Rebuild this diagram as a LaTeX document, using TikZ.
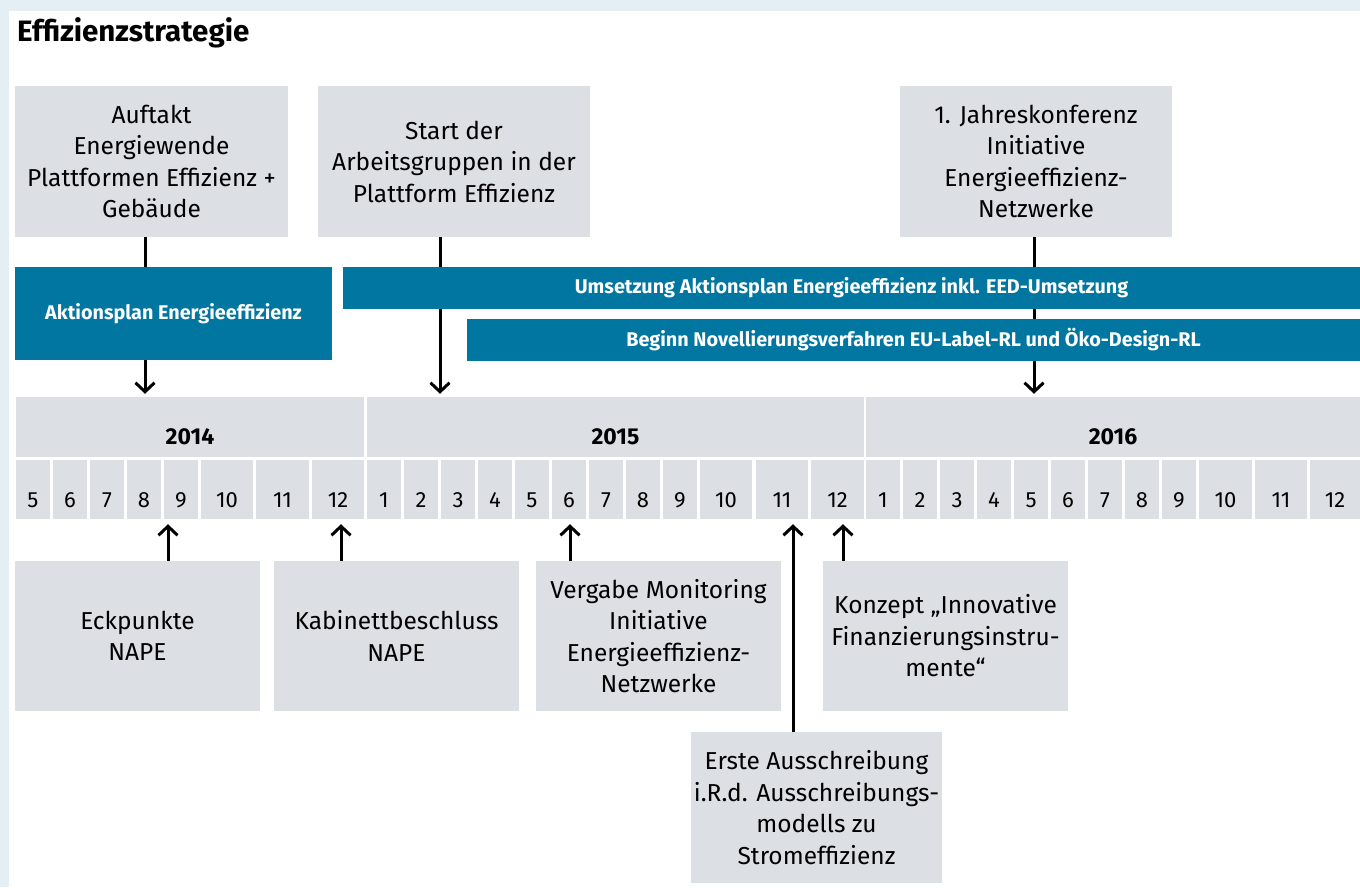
\documentclass[tikz,border=0pt]{standalone}
\usepackage{fontspec}
\setmainfont{Fira Sans}
\usetikzlibrary{arrows.meta,calc}
\definecolor{frameblue}{HTML}{E3EEF5}
\definecolor{boxgray}{HTML}{DCE0E5}
\definecolor{barblue}{HTML}{0076A1}
\pgfdeclarelayer{back}
\pgfdeclarelayer{bg}
\pgfsetlayers{back,bg,main}
\begin{document}
\begin{tikzpicture}[x=1pt,y=-1pt,
 gbox/.style={fill=boxgray, inner sep=0pt, align=center, font=\fontsize{24.5}{31.5}\selectfont},
 bar/.style={fill=barblue, text=white, inner sep=0pt, font=\bfseries\fontsize{19.8}{23}\selectfont},
 yearbox/.style={fill=boxgray, inner sep=0pt, minimum height=60pt, text height=35pt, text depth=0pt, font=\bfseries\fontsize{23}{27}\selectfont},
 monthbox/.style={fill=boxgray, inner sep=0pt, minimum height=59pt, text height=35pt, text depth=0pt, font=\fontsize{22}{26}\selectfont},
 arr/.style={-{Straight Barb[length=9pt,width=19pt]}, line width=3pt}
]
\useasboundingbox (0,0) rectangle (1360,887);
\begin{pgfonlayer}{back}
\fill[frameblue] (0,0) rectangle (1360,887);
\fill[white] (9,11) rectangle (1360,887);
\end{pgfonlayer}

\node[anchor=west, inner sep=0pt, font=\bfseries\fontsize{29.5}{34}\selectfont] (title) at (17,33) {Effizienzstrategie};

% top boxes
\node[gbox, minimum width=273pt, minimum height=151pt] (b1) at (151.5,161.5) {Auftakt\\Energiewende\\Plattformen Effizienz +\\Gebäude};
\node[gbox, minimum width=272pt, minimum height=151pt] (b2) at (454,161.5) {Start der\\Arbeitsgruppen in der\\Plattform Effizienz};
\node[gbox, minimum width=272pt, minimum height=151pt] (b3) at (1036,161.5) {1. Jahreskonferenz\\Initiative\\Energieeffizienz-\\Netzwerke};

% bars
\node[bar, minimum width=317pt, minimum height=93pt] (akt) at (173.5,313.5) {Aktionsplan Energieeffizienz};
\node[bar, minimum width=1017pt, minimum height=42pt] (ums) at (851.5,288) {Umsetzung Aktionsplan Energieeffizienz inkl. EED-Umsetzung};
\node[bar, minimum width=893pt, minimum height=42pt] (beg) at (913.5,340) {Beginn Novellierungsverfahren EU-Label-RL und Öko-Design-RL};

% years
\node[yearbox, minimum width=348pt] (y14) at (190,427) {2014};
\node[yearbox, minimum width=497pt] (y15) at (615.5,427) {2015};
\node[yearbox, minimum width=494pt] (y16) at (1113,427) {2016};

% months
\foreach \l/\r/\t/\n in {16/50/5/m14-5,53/87/6/m14-6,90/124/7/m14-7,127/161/8/m14-8,164/198/9/m14-9,201/253/10/m14-10,256/309/11/m14-11,312/364/12/m14-12,
 367/401/1/m15-1,404/438/2/m15-2,441/475/3/m15-3,478/512/4/m15-4,515/549/5/m15-5,552/586/6/m15-6,589/623/7/m15-7,626/660/8/m15-8,663/697/9/m15-9,700/752/10/m15-10,756/808/11/m15-11,811/864/12/m15-12,
 866/900/1/m16-1,903/937/2/m16-2,940/974/3/m16-3,977/1011/4/m16-4,1014/1048/5/m16-5,1051/1085/6/m16-6,1088/1122/7/m16-7,1125/1159/8/m16-8,1162/1196/9/m16-9,1199/1252/10/m16-10,1255/1307/11/m16-11,1310/1360/12/m16-12}{
 \pgfmathsetmacro{\w}{\r-\l}
 \pgfmathsetmacro{\c}{(\l+\r)/2}
 \node[monthbox, minimum width=\w pt] (\n) at (\c,489.5) {\t};
}

% bottom boxes
\node[gbox, minimum width=245pt, minimum height=150pt] (b4) at (137.5,636) {Eckpunkte\\NAPE};
\node[gbox, minimum width=245pt, minimum height=150pt] (b5) at (396.5,636) {Kabinettbeschluss\\NAPE};
\node[gbox, minimum width=245pt, minimum height=150pt] (b6) at (658.5,636) {Vergabe Monitoring\\Initiative\\Energieeffizienz-\\Netzwerke};
\node[gbox, minimum width=245pt, minimum height=150pt] (b7) at (945.5,636) {Konzept „Innovative\\Finanzierungsinstru-\\mente“};
\node[gbox, minimum width=251pt, minimum height=151pt] (b8) at (816.5,807.5) {Erste Ausschreibung\\i.R.d. Ausschreibungs-\\modells zu\\Stromeffizienz};

% connectors
\begin{pgfonlayer}{bg}
\draw[arr, shorten >=3pt] (b1.south -| 145,0) -- (y14.north -| 145,0);
\draw[arr, shorten >=3pt] (b2.south -| 440,0) -- (y15.north -| 440,0);
\draw[arr, shorten >=3pt] (b3.south -| 1034,0) -- (y16.north -| 1034,0);
\end{pgfonlayer}
\draw[arr, shorten >=5pt] (b4.north -| 168,0) -- (m14-9.south -| 168,0);
\draw[arr, shorten >=5pt] (b5.north -| 341,0) -- (m14-12.south -| 341,0);
\draw[arr, shorten >=5pt] (b6.north -| 570,0) -- (m15-6.south -| 570,0);
\draw[arr, shorten >=5pt] (b8.north -| 793,0) -- (m15-11.south -| 793,0);
\draw[arr, shorten >=5pt] (b7.north -| 843,0) -- (m15-12.south -| 843,0);
\end{tikzpicture}
\end{document}
